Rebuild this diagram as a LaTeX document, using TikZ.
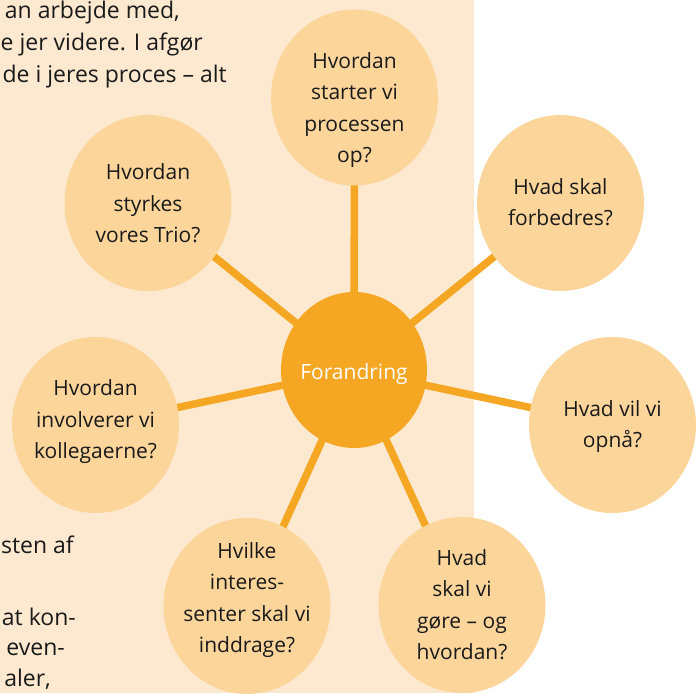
\documentclass[tikz,border=0pt]{standalone}
\usepackage{fontspec}
\setmainfont{Open Sans}
\usetikzlibrary{shapes.geometric}
\pgfdeclarelayer{panel}
\pgfdeclarelayer{spokes}
\pgfsetlayers{panel,spokes,main}
\definecolor{panelbg}{RGB}{253,233,208}
\definecolor{bubblefill}{RGB}{252,213,155}
\definecolor{hubfill}{RGB}{245,166,35}
\definecolor{inktext}{RGB}{26,26,26}
\begin{document}
\begin{tikzpicture}[x=1pt,y=-1pt,
  bubble/.style={ellipse, fill=bubblefill, minimum width=167pt, minimum height=176pt, inner sep=0pt},
  hubstyle/.style={ellipse, fill=hubfill, minimum width=146pt, minimum height=156pt, inner sep=0pt},
  qtext/.style={align=center, font=\fontsize{21}{31.5}\selectfont, text=inktext, inner sep=0pt, text height=11.2pt, text depth=0pt},
  hubtext/.style={font=\fontsize{21}{31.5}\selectfont, text=white, inner sep=0pt, text height=11.2pt, text depth=0pt},
  bodytext/.style={anchor=base east, font=\fontsize{23}{31}\selectfont, inner sep=0pt, text=inktext},
  spoke/.style={draw=hubfill, line width=7.5pt}]
\useasboundingbox (0,0) rectangle (700,693);
\clip (0,0) rectangle (700,693);

\begin{pgfonlayer}{panel}
\fill[panelbg] (0,0) rectangle (474,693);
\end{pgfonlayer}

% background page text (cut off at the picture's edge)
\node[bodytext] (p1) at (180,19) {an arbejde med,};
\node[bodytext] (p2) at (203,51) {e jer videre. I afgør};
\node[bodytext] (p3) at (227,82) {de i jeres proces – alt};
\node[bodytext] (p4) at (74,553) {sten af};
\node[bodytext] (p5) at (76,625) {at kon-};
\node[bodytext] (p6) at (65,655) {even-};
\node[bodytext] (p7) at (51,686) {aler,};

% hub
\node[hubstyle] (hub) at (354,370) {};
\node[hubtext] (hubt) at (354,374) {Forandring};

% bubbles (text nodes are placed by the x-height centre of their last line)
\node[bubble] (q1) at (354.5,97.5) {};
\node[qtext] (q1t) at (354.5,157) {Hvordan\\starter vi\\processen\\op?};
\node[bubble] (q2) at (148,203) {};
\node[qtext] (q2t) at (148,237) {Hvordan\\styrkes\\vores Trio?};
\node[bubble] (q3) at (560.5,203) {};
\node[qtext] (q3t) at (560.5,220) {Hvad skal\\forbedres?};
\node[bubble] (q4) at (612.5,425) {};
\node[qtext] (q4t) at (612.5,442) {Hvad vil vi\\opnå?};
\node[bubble] (q5) at (95.5,425) {};
\node[qtext] (q5t) at (95.5,453) {Hvordan\\involverer vi\\kollegaerne?};
\node[bubble] (q6) at (247,606) {};
\node[qtext] (q6t) at (247,647) {Hvilke\\interes-\\senter skal vi\\inddrage?};
\node[bubble] (q7) at (462,605) {};
\node[qtext] (q7t) at (462,654) {Hvad\\skal vi\\gøre – og\\hvordan?};

\begin{pgfonlayer}{spokes}
\foreach \n in {q1,q2,q3,q4,q5,q6,q7}
  \draw[spoke] (hub.center) -- (\n.center);
\end{pgfonlayer}
\end{tikzpicture}
\end{document}
